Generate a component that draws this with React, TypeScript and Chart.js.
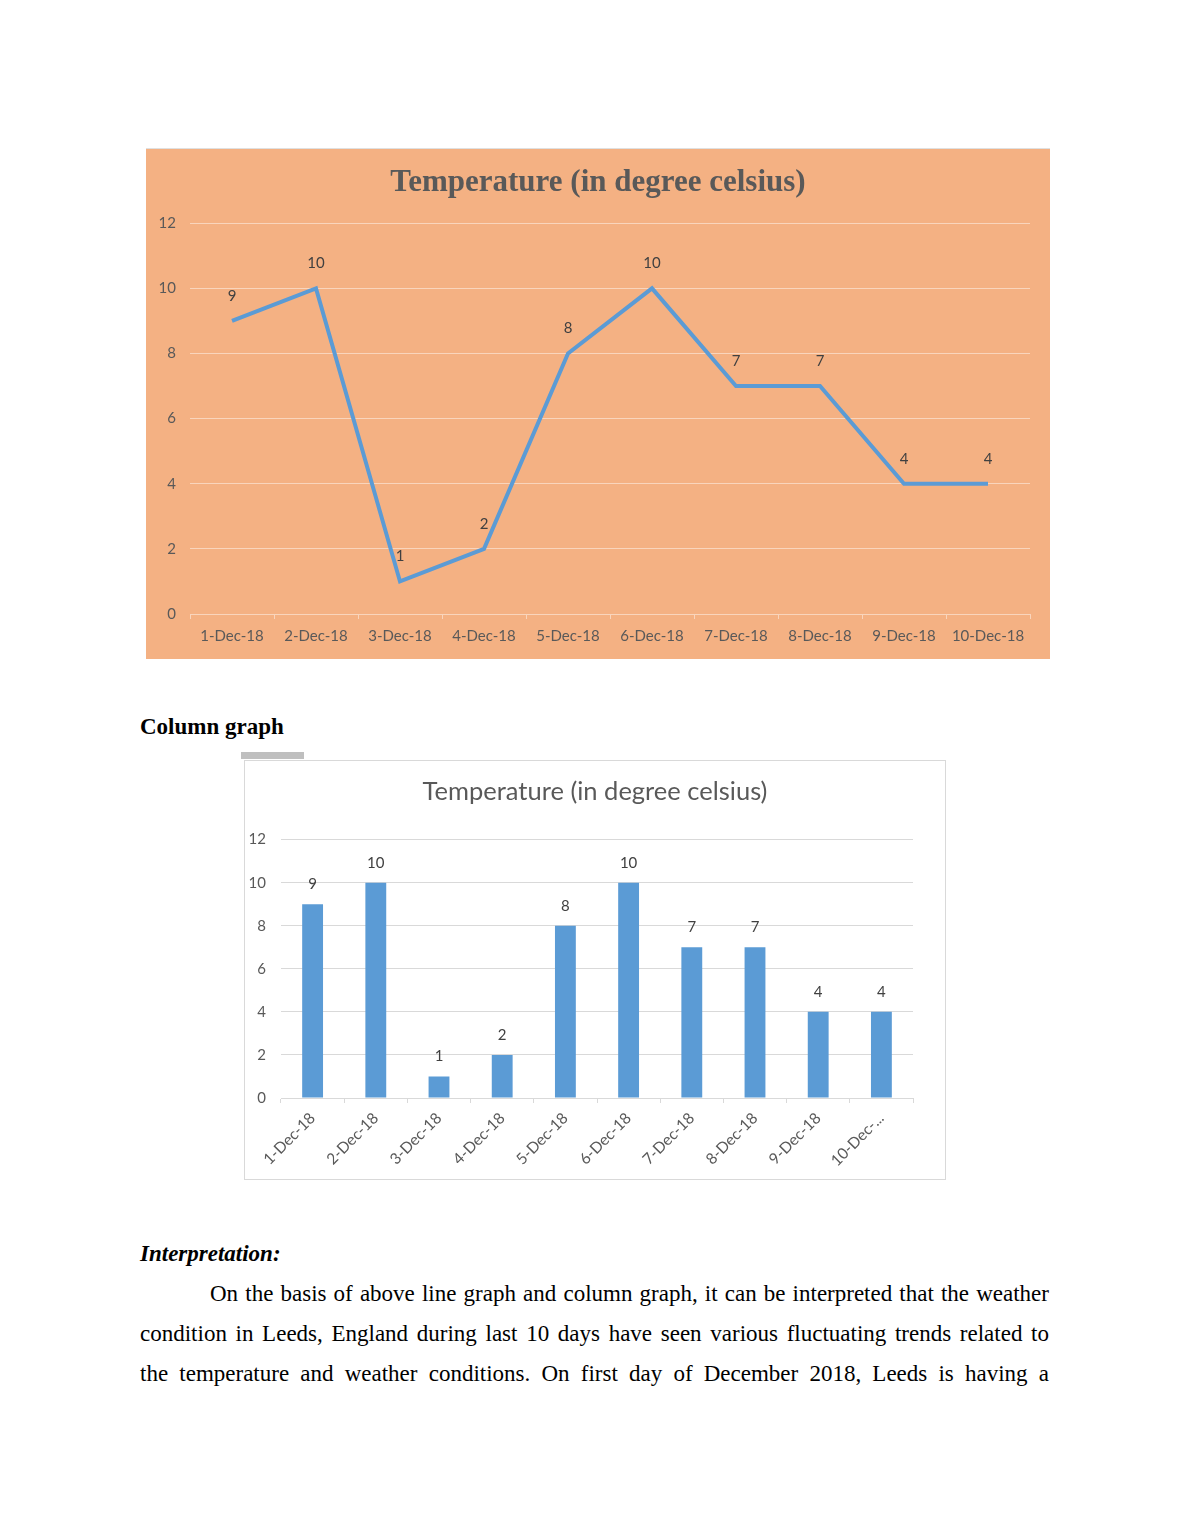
import React, { useEffect, useRef } from "react";
import { Chart, registerables } from "chart.js";

Chart.register(...registerables);

const categories = ["1-Dec-18", "2-Dec-18", "3-Dec-18", "4-Dec-18", "5-Dec-18", "6-Dec-18", "7-Dec-18", "8-Dec-18", "9-Dec-18", "10-Dec-18"];
const temperatures = [9, 10, 1, 2, 8, 10, 7, 7, 4, 4];
const yMin = 0;
const yMax = 12;
const yStep = 2;
const chartTitle = "Temperature (in degree celsius)";

const paragraphLines = [
  "On the basis of above line graph and column graph, it can be interpreted that the weather",
  "condition in Leeds, England during last 10 days have seen various fluctuating trends related to",
  "the temperature and weather conditions. On first day of December 2018, Leeds is having a",
];

const FONT = "Lato, 'Open Sans', sans-serif";

function makeLabelPlugin(id: string, offset: number, color: string, size: number) {
  return {
    id,
    afterDatasetsDraw(chart: any) {
      const ctx = chart.ctx;
      ctx.save();
      ctx.fillStyle = color;
      ctx.font = `${size}px ${FONT}`;
      ctx.textAlign = "center";
      ctx.textBaseline = "middle";
      chart.data.datasets.forEach((ds: any, di: number) => {
        const meta = chart.getDatasetMeta(di);
        meta.data.forEach((el: any, i: number) => {
          ctx.fillText(String(ds.data[i]), el.x, el.y - offset);
        });
      });
      ctx.restore();
    },
  };
}

function ChartCanvas({ config, width, height }: { config: any; width: number; height: number }) {
  const ref = useRef<HTMLCanvasElement | null>(null);
  useEffect(() => {
    if (!ref.current) return;
    const chart = new Chart(ref.current, config);
    return () => chart.destroy();
  }, []);
  return <canvas ref={ref} width={width} height={height} style={{ width, height, display: "block" }} />;
}

function spacerAxis(width: number) {
  return {
    position: "right",
    display: true,
    grid: { display: false, drawTicks: false },
    border: { display: false },
    ticks: { display: false },
    afterFit: (s: any) => { s.width = width; },
  };
}

const lineConfig: any = {
  type: "line",
  data: {
    labels: categories,
    datasets: [
      {
        data: temperatures,
        borderColor: "#5B9BD5",
        borderWidth: 4,
        pointRadius: 0,
        tension: 0,
        fill: false,
        yAxisID: "y",
      },
    ],
  },
  options: {
    responsive: false,
    animation: false,
    layout: { padding: 0 },
    plugins: {
      legend: { display: false },
      tooltip: { enabled: false },
      title: {
        display: true,
        text: chartTitle,
        color: "#595959",
        font: { family: "'Liberation Serif', serif", size: 31, weight: "bold", lineHeight: 1.2 },
        padding: { top: 15, bottom: 22 },
      },
    },
    scales: {
      x: {
        offset: true,
        grid: { display: true, drawOnChartArea: false, drawTicks: true, tickLength: 5, color: "#F9D5BC", offset: true },
        border: { display: true, color: "#F9D5BC", width: 1 },
        ticks: { color: "#595959", font: { family: FONT, size: 15 }, padding: 8, maxRotation: 0, minRotation: 0, autoSkip: false },
        afterFit: (s: any) => { s.height = 45; },
      },
      y: {
        min: yMin,
        max: yMax,
        ticks: { stepSize: yStep, color: "#595959", font: { family: FONT, size: 15 }, padding: 14 },
        grid: { color: "#F9D5BC", drawTicks: false },
        border: { display: false },
        afterFit: (s: any) => { s.width = 44; },
      },
      spacer: spacerAxis(20),
    },
  },
  plugins: [makeLabelPlugin("lineLabels", 25, "#404040", 15)],
};

const barConfig: any = {
  type: "bar",
  data: {
    labels: categories,
    datasets: [
      {
        data: temperatures,
        backgroundColor: "#5B9BD5",
        barPercentage: 0.33,
        categoryPercentage: 1,
        yAxisID: "y",
      },
    ],
  },
  options: {
    responsive: false,
    animation: false,
    layout: { padding: 0 },
    plugins: {
      legend: { display: false },
      tooltip: { enabled: false },
      title: {
        display: true,
        text: chartTitle,
        color: "#595959",
        font: { family: FONT, size: 25.5, weight: "normal", lineHeight: 1.2 },
        padding: { top: 15, bottom: 33 },
      },
    },
    scales: {
      x: {
        grid: { display: true, drawOnChartArea: false, drawTicks: true, tickLength: 5, color: "#D9D9D9", offset: true },
        border: { display: true, color: "#D9D9D9", width: 1 },
        ticks: {
          color: "#595959",
          font: { family: FONT, size: 15.5 },
          padding: 6,
          maxRotation: 45,
          minRotation: 45,
          autoSkip: false,
          callback: function (this: any, value: any) {
            const lbl = String(this.getLabelForValue(value));
            return lbl.length > 8 ? lbl.slice(0, 7) + "..." : lbl;
          },
        },
        afterFit: (s: any) => { s.height = 81; },
      },
      y: {
        min: yMin,
        max: yMax,
        ticks: { stepSize: yStep, color: "#595959", font: { family: FONT, size: 15 }, padding: 15 },
        grid: { color: "#D9D9D9", drawTicks: false },
        border: { display: false },
        afterFit: (s: any) => { s.width = 36; },
      },
      spacer: spacerAxis(32),
    },
  },
  plugins: [makeLabelPlugin("barLabels", 20, "#404040", 15)],
};

export default function App() {
  const serif = "'Liberation Serif', 'Times New Roman', serif";
  const fs = 23;
  return (
    <div style={{ position: "absolute", left: 0, top: 0, width: 1190, height: 1540, background: "#fff", fontFamily: serif, color: "#000" }}>
      <div style={{ position: "absolute", left: 146, top: 148, width: 904, height: 511, background: "#F4B183", borderTop: "1px solid #E0E0E0", boxSizing: "border-box" }}>
        <ChartCanvas config={lineConfig} width={904} height={510} />
      </div>

      <div style={{ position: "absolute", left: 140, top: 714, fontSize: fs, lineHeight: "26px", fontWeight: "bold" }}>Column graph</div>

      <div style={{ position: "absolute", left: 241, top: 752, width: 63, height: 7, background: "#BFBFBF" }} />
      <div style={{ position: "absolute", left: 244, top: 760, width: 702, height: 420, border: "1px solid #D9D9D9", boxSizing: "border-box", background: "#fff" }}>
        <ChartCanvas config={barConfig} width={700} height={418} />
      </div>

      <div style={{ position: "absolute", left: 140, top: 1241, fontSize: fs, lineHeight: "26px", fontWeight: "bold", fontStyle: "italic" }}>Interpretation:</div>

      <div style={{ position: "absolute", left: 140, top: 1274, width: 909, fontSize: fs, lineHeight: "40px" }}>
        {paragraphLines.map((line, i) => (
          <div key={i} style={{ textAlign: "justify", textAlignLast: "justify" as any, paddingLeft: i === 0 ? 70 : 0 }}>
            {line}
          </div>
        ))}
      </div>
    </div>
  );
}
